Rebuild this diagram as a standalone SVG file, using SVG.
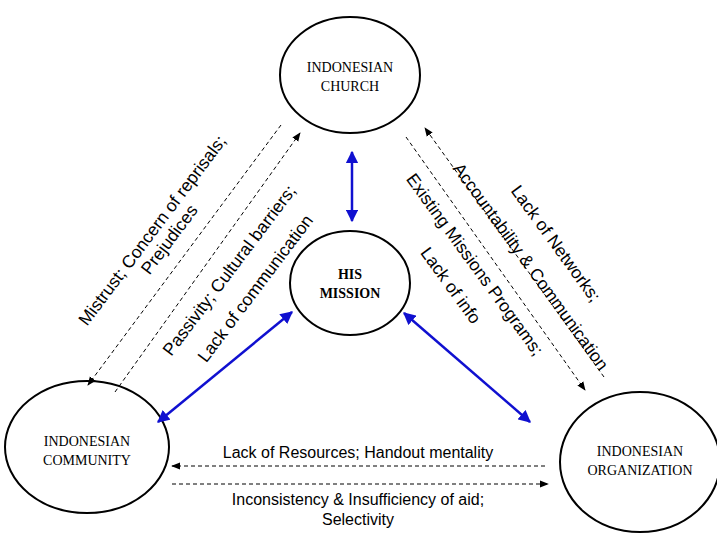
<svg xmlns="http://www.w3.org/2000/svg" width="717" height="538" viewBox="0 0 717 538">
<defs>
<marker id="bh" viewBox="0 0 10 10" refX="9" refY="5" markerWidth="5" markerHeight="5" orient="auto-start-reverse"><path d="M0,0L10,5L0,10z" fill="#1010d0"/></marker>
<marker id="kh" viewBox="0 0 10 10" refX="9" refY="5" markerWidth="9" markerHeight="9" orient="auto"><path d="M0,1L10,5L0,9z" fill="#000"/></marker>
</defs>
<style>
.n{fill:#fff;stroke:#000;stroke-width:2}
.nt{font-family:"Liberation Serif",serif;font-size:14px;text-anchor:middle}
.b{stroke:#1010d0;stroke-width:2.5;fill:none;marker-start:url(#bh);marker-end:url(#bh)}
.d{stroke:#000;stroke-width:1;stroke-dasharray:4,3;fill:none;marker-end:url(#kh)}
.t{font-family:"Liberation Sans",sans-serif;font-size:17.5px;text-anchor:middle}
.h{font-family:"Liberation Sans",sans-serif;font-size:16px;text-anchor:middle}
</style>
<rect width="717" height="538" fill="#fff"/>
<g id="church"><ellipse class="n" cx="350" cy="75" rx="70" ry="58"/><text class="nt" x="350" y="72">INDONESIAN</text><text class="nt" x="350" y="91">CHURCH</text></g>
<g id="mission"><ellipse class="n" cx="350" cy="283" rx="60" ry="52"/><text class="nt" x="350" y="279" font-weight="bold">HIS</text><text class="nt" x="350" y="298" font-weight="bold">MISSION</text></g>
<g id="community"><ellipse class="n" cx="87" cy="447" rx="82" ry="66"/><text class="nt" x="87" y="446">INDONESIAN</text><text class="nt" x="87" y="465">COMMUNITY</text></g>
<g id="organization"><ellipse class="n" cx="640" cy="462" rx="80" ry="70"/><text class="nt" x="640" y="456">INDONESIAN</text><text class="nt" x="640" y="475">ORGANIZATION</text></g>
<g id="connectors">
<line class="b" x1="352" y1="152" x2="352" y2="221"/>
<line class="b" x1="292" y1="312" x2="158" y2="422"/>
<line class="b" x1="404" y1="313" x2="530" y2="422"/>
<line class="d" x1="281" y1="125" x2="88" y2="385"/>
<line class="d" x1="115" y1="392" x2="300" y2="133"/>
<line class="d" x1="604" y1="377" x2="425" y2="128"/>
<line class="d" x1="406" y1="137" x2="585" y2="390"/>
<line class="d" x1="545" y1="466" x2="172" y2="466"/>
<line class="d" x1="172" y1="484" x2="548" y2="484"/>
</g>
<g id="labels">
<text class="t" transform="translate(157,234) rotate(-53)">Mistrust; Concern of reprisals;</text>
<text class="t" transform="translate(174,243) rotate(-53)">Prejudices</text>
<text class="t" transform="translate(234,274) rotate(-53)">Passivity; Cultural barriers;</text>
<text class="t" transform="translate(260,292) rotate(-53)">Lack of communication</text>
<text class="t" transform="translate(551,247) rotate(54)">Lack of Networks;</text>
<text class="t" transform="translate(526,270) rotate(54)">Accountability &amp; Communication</text>
<text class="t" transform="translate(470,268) rotate(54)">Existing Missions Programs;</text>
<text class="t" transform="translate(446,289) rotate(54)">Lack of info</text>
<text class="h" x="358" y="458">Lack of Resources; Handout mentality</text>
<text class="h" x="358" y="505">Inconsistency &amp; Insufficiency of aid;</text>
<text class="h" x="358" y="525">Selectivity</text>
</g>
</svg>
